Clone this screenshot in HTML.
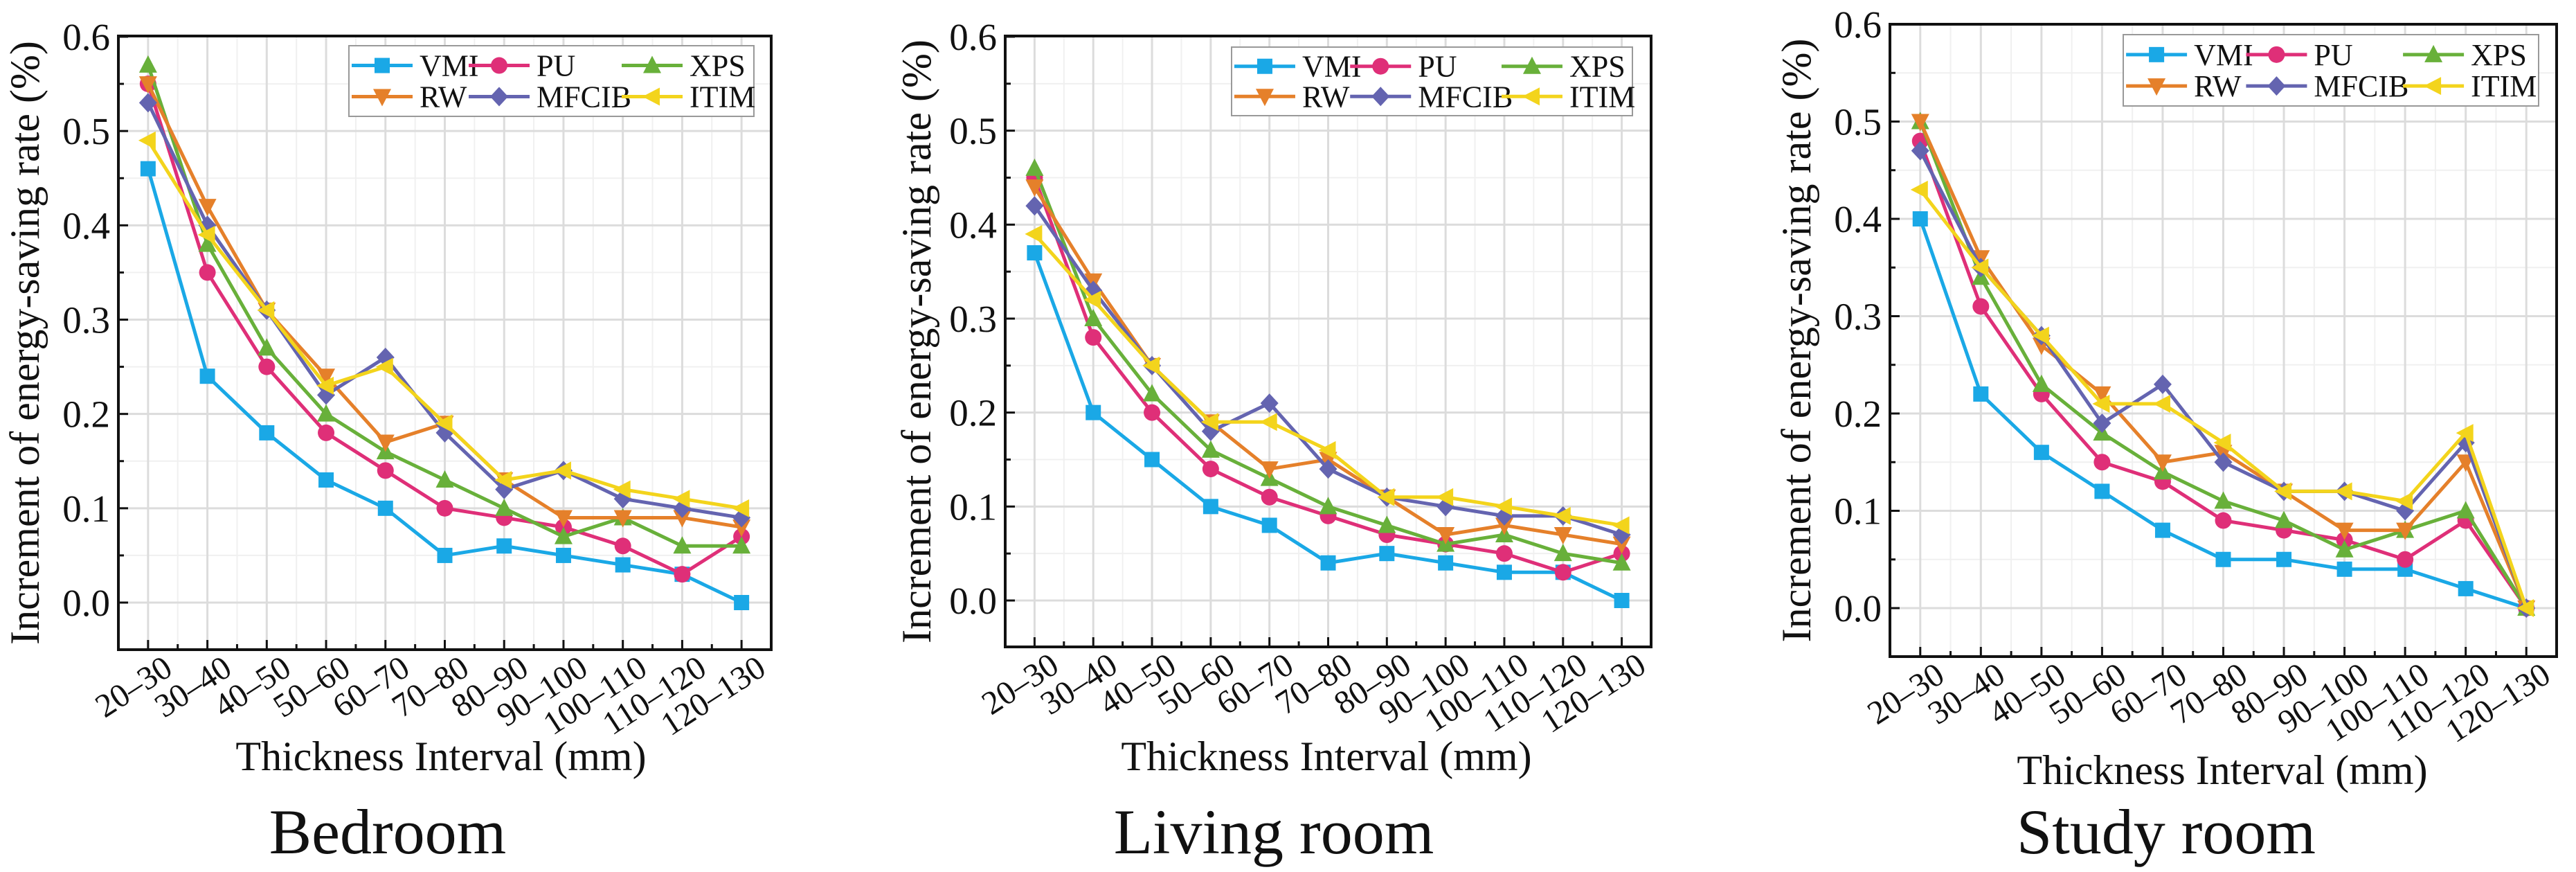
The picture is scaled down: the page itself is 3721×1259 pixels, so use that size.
<!DOCTYPE html>
<html><head><meta charset="utf-8"><style>
html,body{margin:0;padding:0;background:#fff;}
svg{display:block;}
text{font-family:"Liberation Serif",serif;fill:#111;}
</style></head><body>
<svg id="fig" width="3721" height="1259" viewBox="0 0 3721 1259" xmlns="http://www.w3.org/2000/svg"></svg>
<script>
const categories = ["20\u201330","30\u201340","40\u201350","50\u201360","60\u201370","70\u201380","80\u201390","90\u2013100","100\u2013110","110\u2013120","120\u2013130"];
const seriesNames = ["VMI","PU","XPS","RW","MFCIB","ITIM"];
const yTicks = [0.0,0.1,0.2,0.3,0.4,0.5,0.6];
const yTickLabels = ["0.0","0.1","0.2","0.3","0.4","0.5","0.6"];
const roomTitles = ["Bedroom","Living room","Study room"];
// Bedroom
const bedVMI = [.46,.24,.18,.13,.10,.05,.06,.05,.04,.03,0];
const bedPU = [.55,.35,.25,.18,.14,.10,.09,.08,.06,.03,.07];
const bedXPS = [.57,.38,.27,.20,.16,.13,.10,.07,.09,.06,.06];
const bedRW = [.55,.42,.31,.24,.17,.19,.13,.09,.09,.09,.08];
const bedMFCIB = [.53,.40,.31,.22,.26,.18,.12,.14,.11,.10,.09];
const bedITIM = [.49,.39,.31,.23,.25,.19,.13,.14,.12,.11,.10];
// Living room
const livVMI = [.37,.20,.15,.10,.08,.04,.05,.04,.03,.03,0];
const livPU = [.45,.28,.20,.14,.11,.09,.07,.06,.05,.03,.05];
const livXPS = [.46,.30,.22,.16,.13,.10,.08,.06,.07,.05,.04];
const livRW = [.44,.34,.25,.19,.14,.15,.11,.07,.08,.07,.06];
const livMFCIB = [.42,.33,.25,.18,.21,.14,.11,.10,.09,.09,.07];
const livITIM = [.39,.32,.25,.19,.19,.16,.11,.11,.10,.09,.08];
// Study room
const stuVMI = [.40,.22,.16,.12,.08,.05,.05,.04,.04,.02,0];
const stuPU = [.48,.31,.22,.15,.13,.09,.08,.07,.05,.09,0];
const stuXPS = [.50,.34,.23,.18,.14,.11,.09,.06,.08,.10,0];
const stuRW = [.50,.36,.27,.22,.15,.16,.12,.08,.08,.15,0];
const stuMFCIB = [.47,.35,.28,.19,.23,.15,.12,.12,.10,.17,0];
const stuITIM = [.43,.35,.28,.21,.21,.17,.12,.12,.11,.18,0];

const colors = ["#1aa8e6","#df2f78","#68b03a","#e5802a","#6464b0","#f3d41c"];
const shapes = ["square","circle","up","down","diamond","left"];
const NS="http://www.w3.org/2000/svg";
const svg=document.getElementById('fig');
function mk(tag,attrs,parent){const e=document.createElementNS(NS,tag);for(const k in attrs)e.setAttribute(k,attrs[k]);(parent||svg).appendChild(e);return e;}

function marker(g,shape,x,y,c){
  const s=11;let e;
  if(shape==="square") e=mk('rect',{x:x-s,y:y-s,width:2*s,height:2*s,fill:c},g);
  else if(shape==="circle") e=mk('circle',{cx:x,cy:y,r:s+1,fill:c},g);
  else if(shape==="up") e=mk('polygon',{points:`${x},${y-s-3} ${x+s+2},${y+s} ${x-s-2},${y+s}`,fill:c},g);
  else if(shape==="down") e=mk('polygon',{points:`${x},${y+s+3} ${x+s+2},${y-s} ${x-s-2},${y-s}`,fill:c},g);
  else if(shape==="diamond") e=mk('polygon',{points:`${x},${y-s-3} ${x+s+2},${y} ${x},${y+s+3} ${x-s-2},${y}`,fill:c},g);
  else e=mk('polygon',{points:`${x-s-3},${y} ${x+s},${y-s-2} ${x+s},${y+s+2}`,fill:c},g);
  return e;
}

const charts=[
 {id:'bedroom',L:171,R:1114,T:52,B:938,y0:870,y6:53,data:[bedVMI,bedPU,bedXPS,bedRW,bedMFCIB,bedITIM],ytx:38,lg:[504,66,585,102],xt:637,xty:1112,rt:560},
 {id:'living-room',L:1452,R:2385,T:52,B:934,y0:867,y6:53,data:[livVMI,livPU,livXPS,livRW,livMFCIB,livITIM],ytx:1326,lg:[1779,68,579,99],xt:1916,xty:1112,rt:1840},
 {id:'study-room',L:2730,R:3693,T:35,B:948,y0:878,y6:35,data:[stuVMI,stuPU,stuXPS,stuRW,stuMFCIB,stuITIM],ytx:2597,lg:[3067,50,600,103],xt:3210,xty:1132,rt:3129}
];

charts.forEach((c,ci)=>{
  const g=mk('g',{});
  
  
  const n=categories.length;
  const xs=i=>c.L+(i+0.5)*(c.R-c.L)/n;
  const ys=v=>c.y0+(c.y6-c.y0)*v/0.6;
  for(let i=0;i<n-1;i++){
    const xm=xs(i)+(c.R-c.L)/n/2;
    mk('line',{x1:xm,x2:xm,y1:c.T,y2:c.B,stroke:'#f0f0f0','stroke-width':2},g);
  }
  for(let k=-1;k<12;k+=2){const y=ys(k*0.05);if(y>c.T&&y<c.B)mk('line',{x1:c.L,x2:c.R,y1:y,y2:y,stroke:'#f0f0f0','stroke-width':2},g);}
  categories.forEach((cat,i)=>{const l=mk('line',{x1:xs(i),x2:xs(i),y1:c.T,y2:c.B,stroke:'#dcdcdc','stroke-width':3},g);
    
    });
  yTicks.forEach((v,i)=>{
    const y=ys(v);
    if(y>c.T+2){const l=mk('line',{x1:c.L,x2:c.R,y1:y,y2:y,stroke:'#dcdcdc','stroke-width':3},g);
      
      }
    mk('line',{x1:c.L,x2:c.L+14,y1:y,y2:y,stroke:'#111','stroke-width':3},g);
    const t=mk('text',{x:c.L-12,y:y+19,'text-anchor':'end','font-size':55},g);
    t.textContent=yTickLabels[i];
    
    
  });
  for(let k=-1;k<12;k+=2){const y=ys(k*0.05);if(y>c.T&&y<c.B)mk('line',{x1:c.L,x2:c.L+8,y1:y,y2:y,stroke:'#111','stroke-width':3},g);}
  categories.forEach((cat,i)=>{
    const x=xs(i);
    mk('line',{x1:x,x2:x,y1:c.B,y2:c.B-14,stroke:'#111','stroke-width':3},g);
    const xm=x+(c.R-c.L)/n/2;
    if(i<n-1)mk('line',{x1:xm,x2:xm,y1:c.B,y2:c.B-8,stroke:'#111','stroke-width':3},g);
    const t=mk('text',{x:0,y:0,'text-anchor':'end','font-size':48,transform:`translate(${x+38},${c.B+34}) rotate(-33)`},g);
    t.textContent=cat;
    
    
  });
  const fr=mk('rect',{x:c.L,y:c.T,width:c.R-c.L,height:c.B-c.T,fill:'none',stroke:'#111','stroke-width':4},g);
  
  
  c.data.forEach((arr,si)=>{
    const sg=mk('g',{},g);
    
    
    const pts=arr.map((v,i)=>xs(i)+','+ys(v)).join(' ');
    const pl=mk('polyline',{points:pts,fill:'none',stroke:colors[si],'stroke-width':5,'stroke-linejoin':'round'},sg);
    
    
    arr.forEach((v,i)=>{const m=marker(sg,shapes[si],xs(i),ys(v),colors[si]);
      
      });
  });
  const [lx,ly,lw,lh]=c.lg;
  const lgG=mk('g',{},g);
  
  
  mk('rect',{x:lx,y:ly,width:lw,height:lh,fill:'#fff',stroke:'#999','stroke-width':2},lgG);
  const colOff=[4,173,394],rowOff=[0.28,0.72];
  seriesNames.forEach((nm,si)=>{
    const col=si%3,row=Math.floor(si/3);
    const x0=lx+colOff[col]*lw/585,y=ly+rowOff[row]*lh;
    const eg=mk('g',{},lgG);
    
    
    mk('line',{x1:x0,x2:x0+88,y1:y,y2:y,stroke:colors[si],'stroke-width':5},eg);
    marker(eg,shapes[si],x0+44,y,colors[si]);
    const t=mk('text',{x:x0+98,y:y+15,'font-size':44},eg);
    t.textContent=nm;
  });
  const yt=mk('text',{x:0,y:0,'text-anchor':'middle','font-size':60,transform:`translate(${c.ytx+18},${(c.T+c.B)/2}) rotate(-90)`},g);
  yt.textContent='Increment of energy-saving rate (%)';
  
  
  const xt=mk('text',{x:c.xt,y:c.xty,'text-anchor':'middle','font-size':60},g);
  xt.textContent='Thickness Interval (mm)';
  
  
  const rt=mk('text',{x:c.rt,y:1232,'text-anchor':'middle','font-size':92},g);
  rt.textContent=roomTitles[ci];
  
  
});
</script>
</body></html>
